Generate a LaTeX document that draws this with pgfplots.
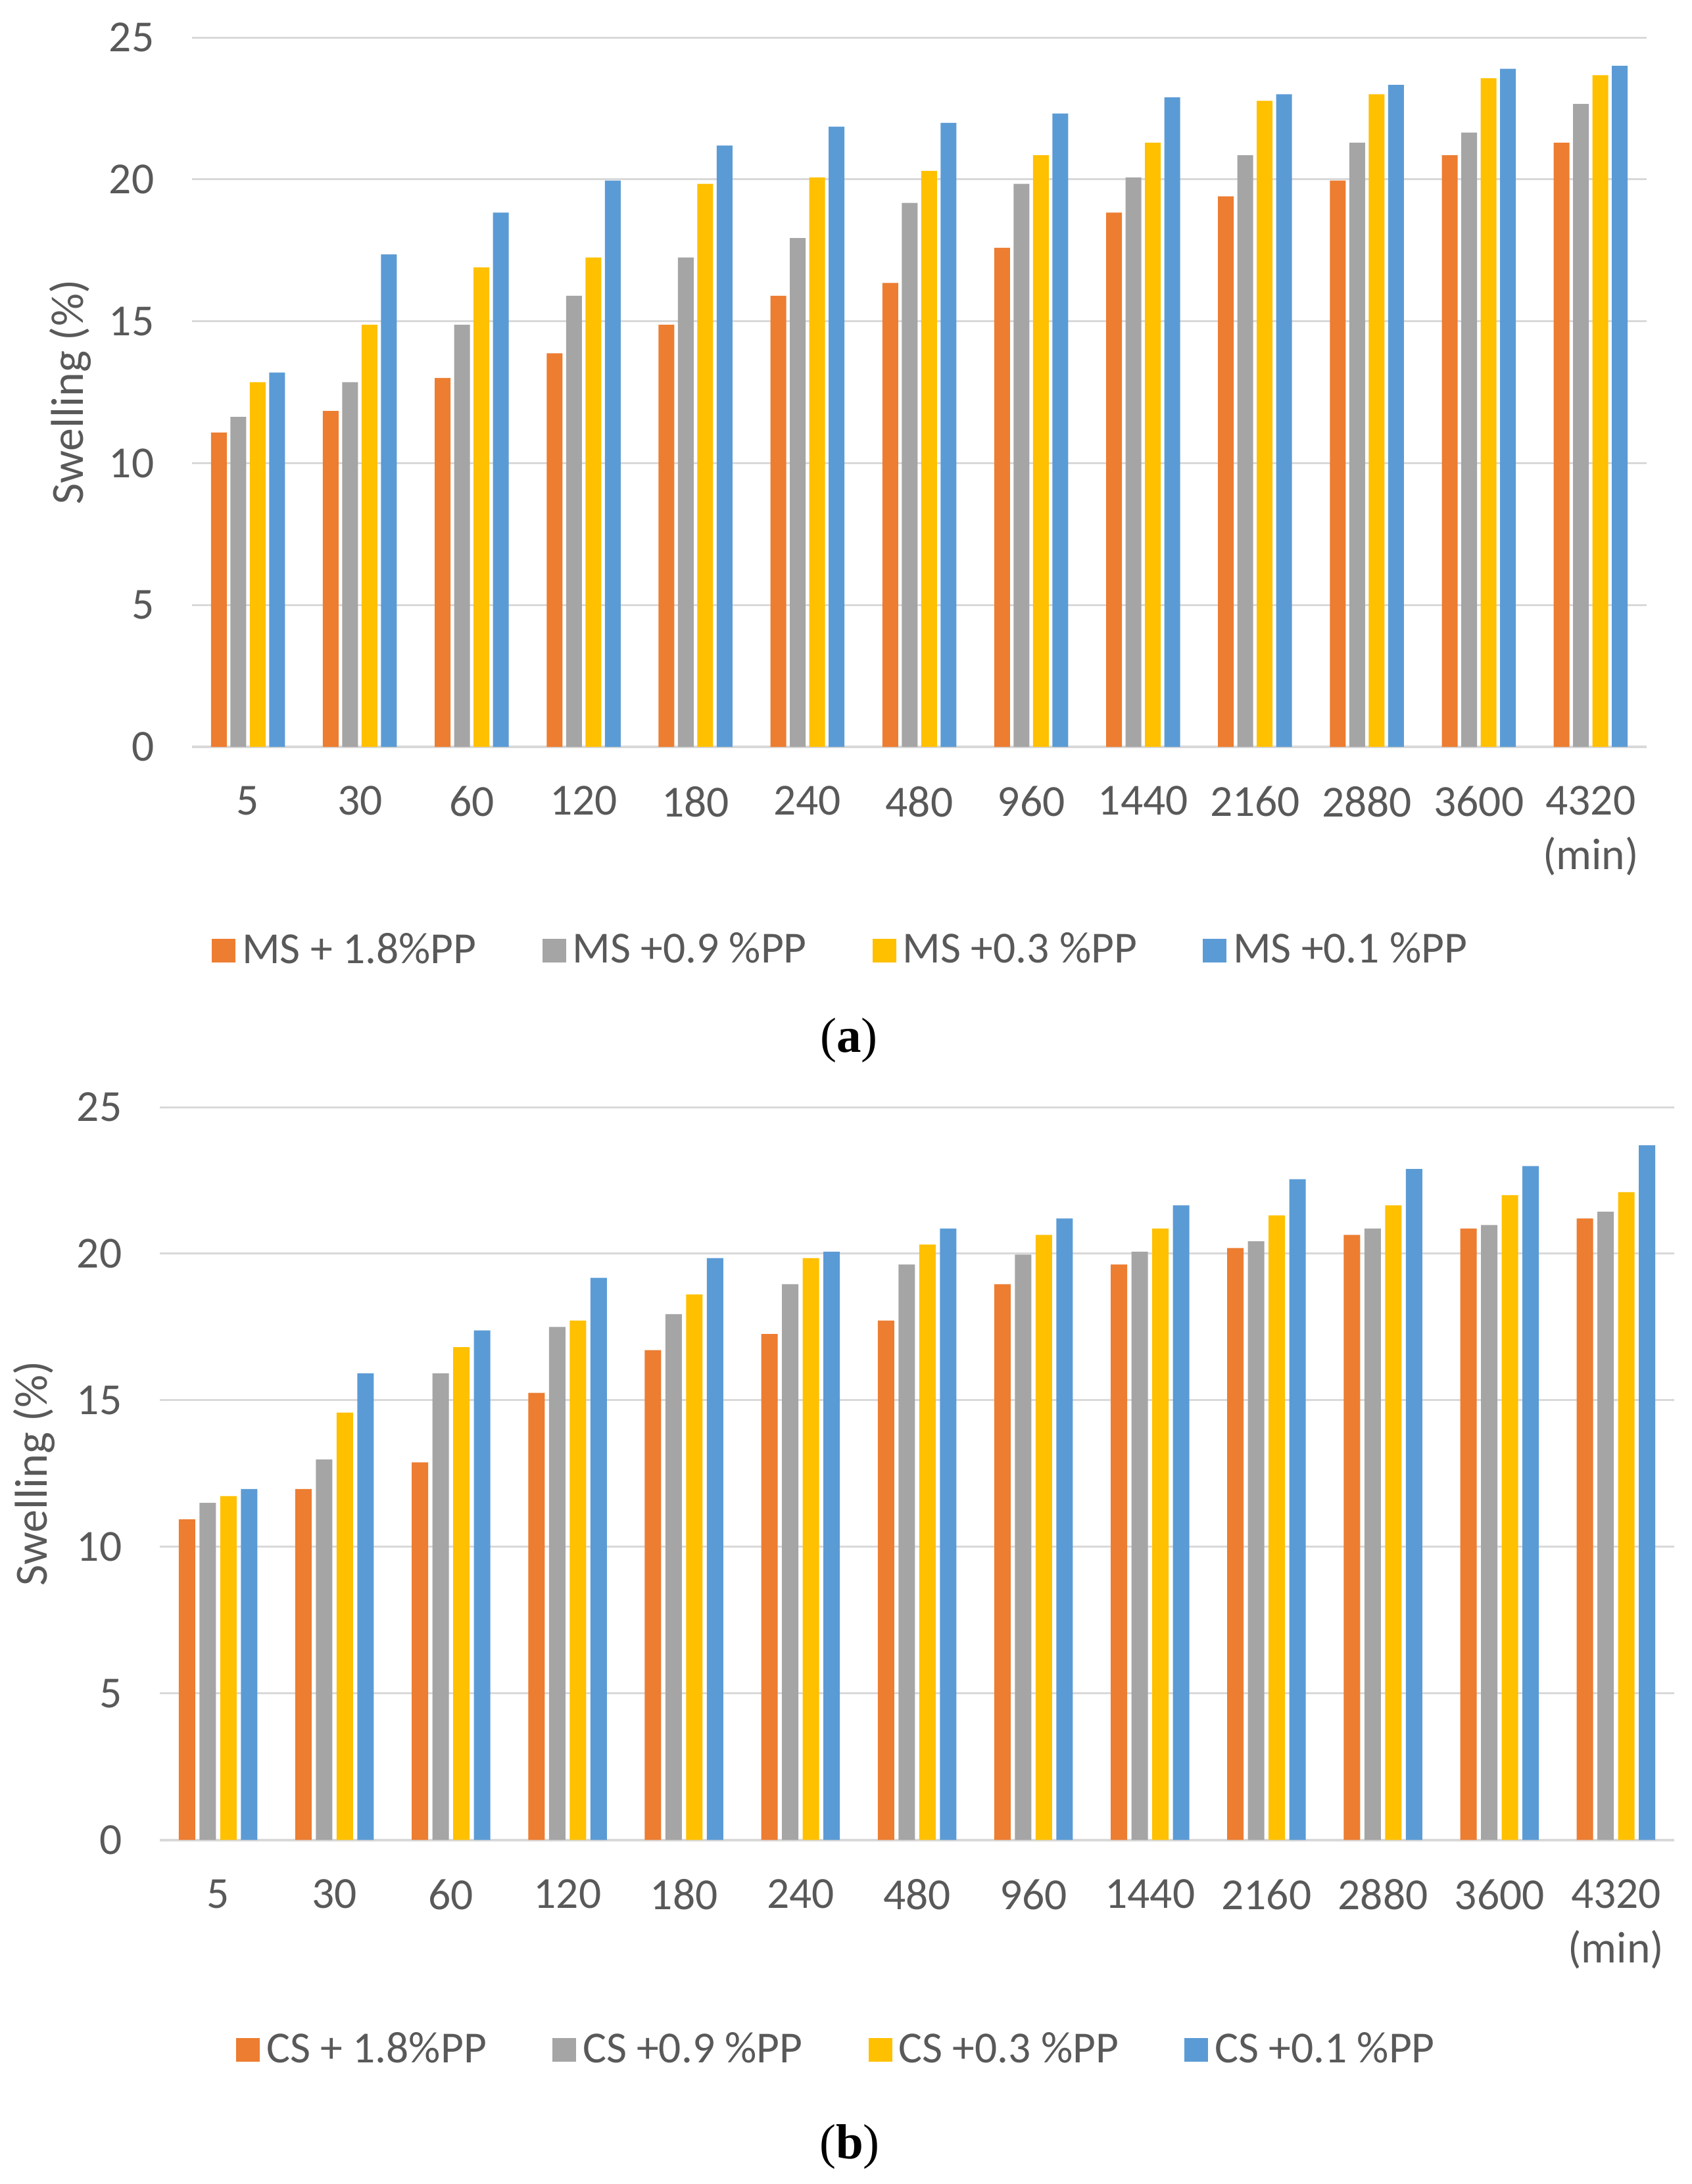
\documentclass[border=0pt]{standalone}
\usepackage{pgfplots}
\pgfplotsset{compat=1.18}
\usepackage{pgfplotstable}
\usepackage{fontspec}
\setmainfont{Carlito}
\newfontfamily\seriffont{Liberation Serif}
\definecolor{cor}{HTML}{ED7D31}
\definecolor{cgr}{HTML}{A5A5A5}
\definecolor{cye}{HTML}{FFC000}
\definecolor{cbl}{HTML}{5B9BD5}
\definecolor{txt}{HTML}{595959}
\definecolor{grid}{HTML}{D9D9D9}

\pgfplotstableread{
x a b c d
0 11.08 11.63 12.85 13.19
1 11.84 12.85 14.88 17.36
2 13.00 14.88 16.90 18.83
3 13.87 15.90 17.25 19.96
4 14.88 17.25 19.84 21.19
5 15.90 17.93 20.07 21.86
6 16.35 19.17 20.30 21.99
7 17.59 19.84 20.85 22.32
8 18.83 20.07 21.29 22.89
9 19.40 20.85 22.77 23.00
10 19.96 21.29 23.00 23.33
11 20.85 21.65 23.56 23.90
12 21.29 22.66 23.67 24.00
}\tabA

\pgfplotstableread{
x a b c d
0 10.94 11.50 11.73 11.97
1 11.97 12.98 14.58 15.92
2 12.88 15.92 16.81 17.38
3 15.25 17.50 17.72 19.18
4 16.71 17.94 18.61 19.85
5 17.26 18.96 19.85 20.07
6 17.72 19.63 20.31 20.86
7 18.96 19.97 20.64 21.20
8 19.63 20.07 20.86 21.65
9 20.19 20.42 21.31 22.54
10 20.64 20.86 21.65 22.89
11 20.86 20.98 22.00 22.99
12 21.20 21.43 22.10 23.70
}\tabB

\pgfplotsset{
  /pgfplots/ybar legend/.style={/pgfplots/legend image code/.code={\fill[##1] (0pt,-3.6pt) rectangle (7.2pt,3.6pt);}},
  swell/.style={
    scale only axis,
    xmin=-0.5, xmax=12.5, ymin=0, ymax=25,
    enlargelimits=false,
    ytick={0,5,10,15,20,25},
    xtick={0,...,12},
    xticklabels={5,30,60,120,180,240,480,960,1440,2160,2880,3600,{4320\\(min)}},
    axis x line=bottom, axis y line=left,
    y axis line style={draw=none},
    x axis line style={draw=grid, line width=0.8pt, -},
    tick style={draw=none},
    major tick length=0pt,
    ymajorgrids,
    major grid style={draw=grid, line width=0.6pt},
    /pgf/number format/assume math mode=true,
    tick label style={font=\fontsize{13.5}{16.5}\selectfont, text=txt},
    xticklabel style={align=center, anchor=north, yshift=-8.5pt},
    yticklabel style={anchor=east, xshift=-8pt},
    ylabel={Swelling (\%)},
    every axis y label/.style={rotate=90, anchor=center, font=\fontsize{14}{16}\selectfont, text=txt},
    ybar,
    legend columns=4,
    legend style={draw=none, fill=none, font=\fontsize{13.5}{16}\selectfont, text=txt,
      anchor=center,
      /tikz/every even column/.append style={column sep=18pt}},
  }
}

\begin{document}
\begin{tikzpicture}
\useasboundingbox (0,0) rectangle (514.4pt,-664.4pt);

\begin{axis}[swell,
  at={(58.4pt,-227.2pt)}, anchor=south west,
  width=442.4pt, height=215.8pt,
  bar width=4.8pt, ybar=1.1pt,
  ylabel style={at={(axis description cs:-0.0839,0.5)}},
  legend style={at={(axis description cs:0.4475,-0.287)}},
]
\addplot[fill=cor, draw=none] table[x=x,y=a]{\tabA};
\addplot[fill=cgr, draw=none] table[x=x,y=b]{\tabA};
\addplot[fill=cye, draw=none] table[x=x,y=c]{\tabA};
\addplot[fill=cbl, draw=none] table[x=x,y=d]{\tabA};
\legend{MS + 1.8\%PP, MS +0.9 \%PP, MS +0.3 \%PP, MS +0.1 \%PP}
\end{axis}

\node at (258.2pt,-316.5pt) {\seriffont\fontsize{15}{18}\selectfont (\textbf{a})};

\begin{axis}[swell,
  at={(48.6pt,-559.7pt)}, anchor=south west,
  width=460.6pt, height=222.9pt,
  bar width=5pt, ybar=1.3pt,
  ylabel style={at={(axis description cs:-0.0829,0.5)}},
  legend style={at={(axis description cs:0.4484,-0.287)}},
]
\addplot[fill=cor, draw=none] table[x=x,y=a]{\tabB};
\addplot[fill=cgr, draw=none] table[x=x,y=b]{\tabB};
\addplot[fill=cye, draw=none] table[x=x,y=c]{\tabB};
\addplot[fill=cbl, draw=none] table[x=x,y=d]{\tabB};
\legend{CS + 1.8\%PP, CS +0.9 \%PP, CS +0.3 \%PP, CS +0.1 \%PP}
\end{axis}

\node at (258.4pt,-653pt) {\seriffont\fontsize{15}{18}\selectfont (\textbf{b})};
\end{tikzpicture}
\end{document}
